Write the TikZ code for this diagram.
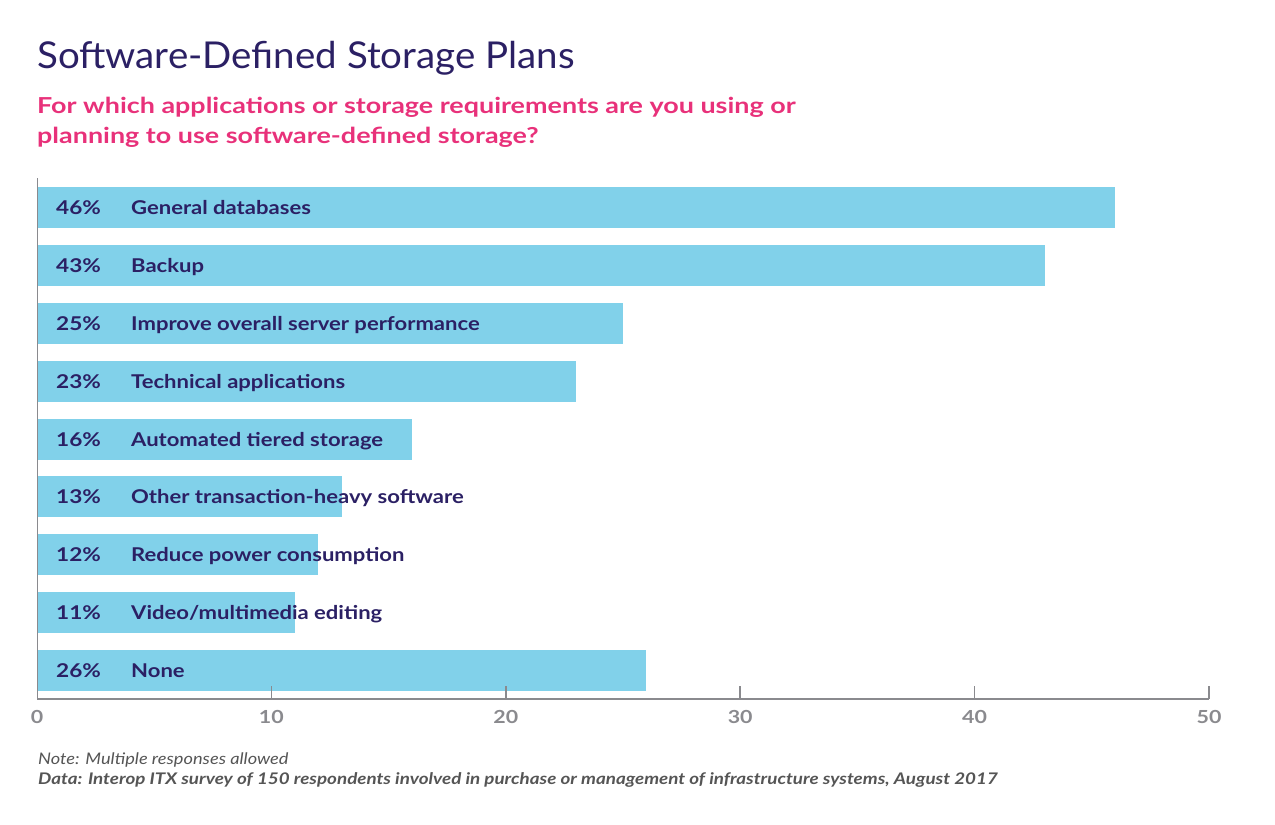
\documentclass[tikz,border=0pt]{standalone}
\usepackage{fontspec}
\setmainfont{Lato}
\newfontfamily\titlef[FakeStretch=1.04]{Lato}
\newfontfamily\subf[FakeStretch=1.223]{Lato}
\newfontfamily\labf[FakeStretch=1.16]{Lato}
\newfontfamily\pctf[FakeStretch=1.19]{Lato}
\newfontfamily\notef[FakeStretch=1.14]{Lato}
\newfontfamily\dataf[FakeStretch=1.175]{Lato}
\definecolor{barc}{HTML}{81D1EA}
\definecolor{navy}{HTML}{2B2064}
\definecolor{pinkc}{HTML}{E8317A}
\definecolor{axisc}{HTML}{8A8A8E}
\definecolor{notec}{HTML}{555555}
\begin{document}
\begin{tikzpicture}[x=1pt,y=-1pt,
  bar/.style={fill=barc,draw=none},
  pct/.style={anchor=base west,text=navy,font=\pctf\fontsize{19}{22}\selectfont\bfseries,inner sep=0pt},
  lab/.style={anchor=base west,text=navy,font=\labf\fontsize{19}{22}\selectfont\bfseries,inner sep=0pt},
  ticklab/.style={text=axisc,font=\pctf\fontsize{18}{20}\selectfont\bfseries,inner sep=0pt},
  axisline/.style={draw=axisc,line width=1.6pt}]
\useasboundingbox (0,0) rectangle (1275,825);
\node[anchor=west,text=navy,font=\titlef\fontsize{37}{40}\selectfont,inner sep=0pt] (title) at (37,58) {Software-Defined Storage Plans};
\node[anchor=north west,align=left,text=pinkc,font=\subf\fontsize{22}{30}\selectfont\bfseries,inner sep=0pt] (sub) at (37,97) {For which applications or storage requirements are you using or\\planning to use software-defined storage?};
\foreach \v/\t [count=\i from 0] in {46/{General databases},43/{Backup},25/{Improve overall server performance},23/{Technical applications},16/{Automated tiered storage},13/{Other transaction-heavy software},12/{Reduce power consumption},11/{Video/multimedia editing},26/{None}}{
  \pgfmathsetmacro{\cy}{207.5+57.875*\i}
  \pgfmathsetmacro{\xe}{37+23.44*\v}
  \fill[bar] (38,\cy-20.5) rectangle (\xe,\cy+20.5);
  \node[pct] (p\i) at (56,\cy+7) {\v\%};
  \node[lab] (l\i) at (131,\cy+7) {\t};
}
\coordinate (o) at (37.5,699);
\coordinate (top) at (37.5,178);
\coordinate (xe) at (1209,699);
\draw[axisline] (top) -- (o) -- (xe);
\foreach \k in {1,...,5}{
  \pgfmathsetmacro{\tx}{37+23.44*\k*10}
  \coordinate (t\k) at (\tx,686);
  \draw[axisline] (t\k) -- (\tx,699);
}
\foreach \k in {0,...,5}{
  \pgfmathsetmacro{\tx}{37+23.44*\k*10}
  \pgfmathtruncatemacro{\tv}{\k*10}
  \node[ticklab] (tl\k) at (\tx,717) {\tv};
}
\node[anchor=west,text=notec,font=\notef\fontsize{16}{18}\selectfont\itshape,inner sep=0pt] (note) at (38,760) {Note: Multiple responses allowed};
\node[anchor=west,text=notec,font=\dataf\fontsize{16}{18}\selectfont\bfseries\itshape,inner sep=0pt] (data) at (38,780) {Data: Interop ITX survey of 150 respondents involved in purchase or management of infrastructure systems, August 2017};
\end{tikzpicture}
\end{document}
